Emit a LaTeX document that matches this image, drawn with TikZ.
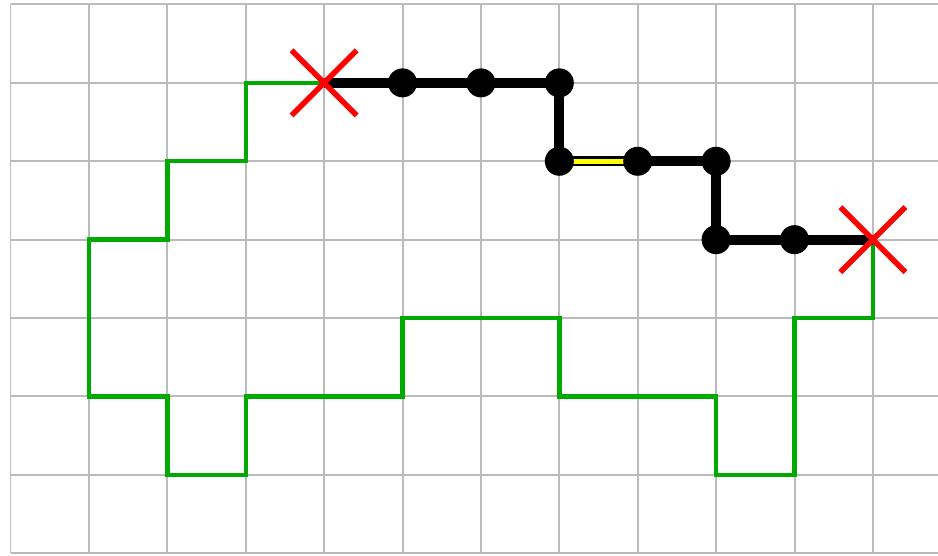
\documentclass[tikz,border=0pt]{standalone}
\usetikzlibrary{shapes.misc}
\definecolor{gridgray}{RGB}{187,187,187}
\definecolor{routegreen}{RGB}{0,170,0}
\definecolor{markred}{RGB}{255,0,0}
\definecolor{linkyellow}{RGB}{255,255,0}
\pgfdeclarelayer{gridlayer}
\pgfdeclarelayer{chainlayer}
\pgfsetlayers{gridlayer,chainlayer,main}
\tikzset{
  gridline/.style={gridgray, line width=0.72pt},
  border/.style={draw=routegreen, line width=1.6pt, line join=miter},
  chain/.style={draw=black, line width=3.6pt},
  weak/.style={draw=linkyellow, line width=2pt},
  stone/.style={circle, fill=black, inner sep=0pt, minimum size=0.37cm},
  endmark/.style={cross out, draw=markred, line width=2pt, inner sep=0pt, minimum size=0.76cm}
}
\begin{document}
\begin{tikzpicture}[x=1cm,y=1cm]
  \useasboundingbox (-0.134,-0.026) rectangle (11.83,7.057);
  % chain stones and the two end markers
  \node[stone] (p1) at (5,6) {};
  \node[stone] (p2) at (6,6) {};
  \node[stone] (p3) at (7,6) {};
  \node[stone] (p4) at (7,5) {};
  \node[stone] (p5) at (8,5) {};
  \node[stone] (p6) at (9,5) {};
  \node[stone] (p7) at (9,4) {};
  \node[stone] (p8) at (10,4) {};
  \node[endmark] (s) at (4,6) {};
  \node[endmark] (t) at (11,4) {};
  % background grid and enclosing green route
  \begin{pgfonlayer}{gridlayer}
    \clip (-0.134,-0.026) rectangle (11.83,7.057);
    \foreach \i in {0,...,11} \draw[gridline] (\i,0) -- (\i,7);
    \foreach \j in {0,...,7} \draw[gridline] (0,\j) -- (12.5,\j);
    \draw[border] (s.center) -- (3,6) -- (3,5) -- (2,5) -- (2,4) -- (1,4) -- (1,2) -- (2,2) -- (2,1)
       -- (3,1) -- (3,2) -- (5,2) -- (5,3) -- (7,3) -- (7,2) -- (9,2) -- (9,1) -- (10,1) -- (10,3)
       -- (11,3) -- (t.center);
  \end{pgfonlayer}
  % black chain with its weak link
  \begin{pgfonlayer}{chainlayer}
    \draw[chain] (s.center) -- (p1.center) -- (p2.center) -- (p3.center) -- (p4.center) -- (p5.center)
       -- (p6.center) -- (p7.center) -- (p8.center) -- (t.center);
    \draw[weak] (p4.center) -- (p5.center);
  \end{pgfonlayer}
\end{tikzpicture}
\end{document}
